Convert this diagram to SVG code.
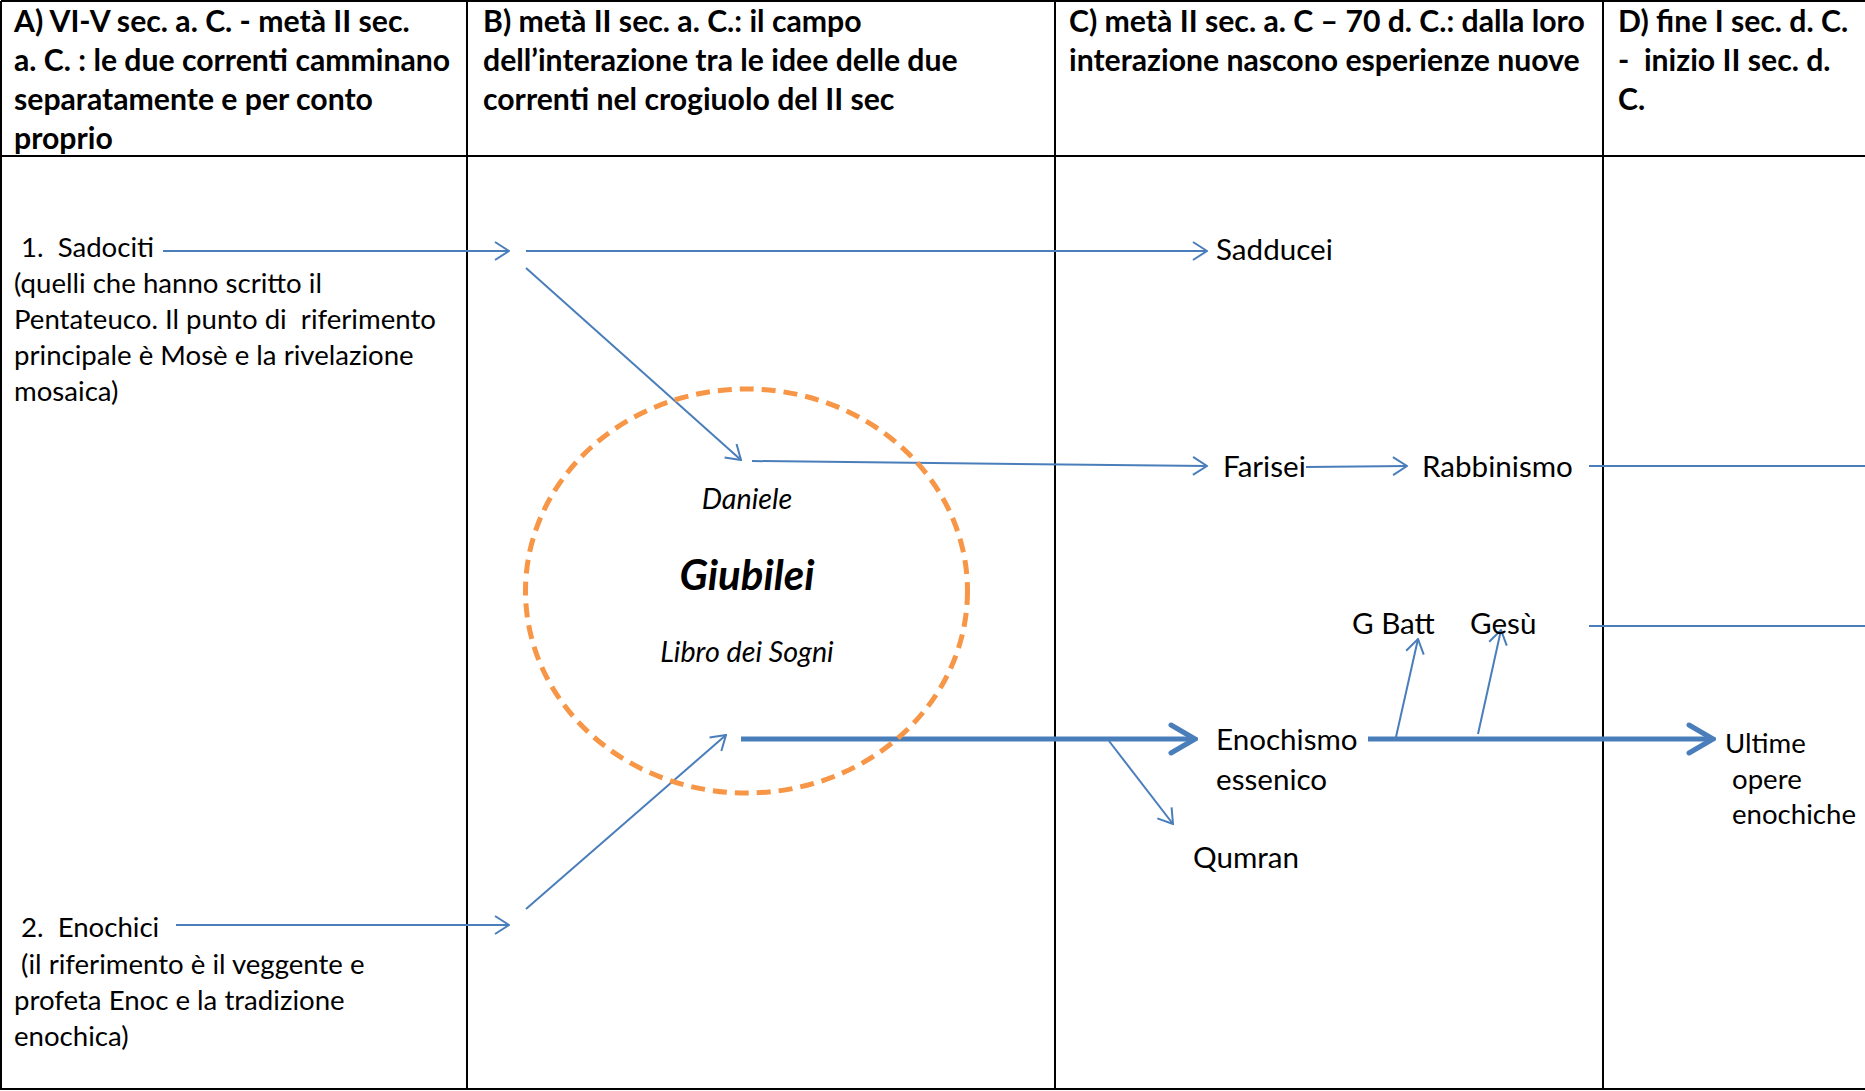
<svg xmlns="http://www.w3.org/2000/svg" width="1865" height="1091" viewBox="0 0 1865 1091">
<defs>
<style>
text{white-space:pre}
.hd{font-family:Lato,"Open Sans","DejaVu Sans",sans-serif;font-weight:bold;font-size:30.2px;fill:#000}
.tx{font-family:Lato,"Open Sans","DejaVu Sans",sans-serif;font-size:27.6px;fill:#000}
.lb{font-family:Lato,"Open Sans","DejaVu Sans",sans-serif;font-size:29.6px;fill:#000}
.it{font-family:Lato,"Open Sans","DejaVu Sans",sans-serif;font-style:italic;font-size:28.7px;fill:#000}
.big{font-family:Lato,"Open Sans","DejaVu Sans",sans-serif;font-style:italic;font-weight:bold;font-size:42px;fill:#000}
.grid{stroke:#000;stroke-width:2;fill:none}
.c{stroke:#4A7EBB;stroke-width:2;fill:none}
.ck{stroke:#4A7EBB;stroke-width:5;fill:none}
</style>
<marker id="a" viewBox="0 0 16 20" refX="15" refY="10" markerWidth="16" markerHeight="20" markerUnits="userSpaceOnUse" orient="auto">
<path d="M1,1 L15,10 L1,19" fill="none" stroke="#4A7EBB" stroke-width="2"/>
</marker>
<marker id="ak" viewBox="0 0 30 34" refX="27" refY="17" markerWidth="30" markerHeight="34" markerUnits="userSpaceOnUse" orient="auto">
<path d="M3,3 L27,17 L3,31" fill="none" stroke="#4A7EBB" stroke-width="5" stroke-linecap="round"/>
</marker>
</defs>
<rect width="1865" height="1091" fill="#fff"/>
<g id="table">
<path class="grid" d="M1,1 H1865 M1,1 V1089 H1865 M1,156 H1865 M467,1 V1089 M1055,1 V1089 M1603,1 V1089"/>
</g>
<g id="headers">
<text class="hd" x="14" y="32">A) VI-V sec. a. C. - metà II sec.</text>
<text class="hd" x="14" y="71">a. C. : le due correnti camminano</text>
<text class="hd" x="14" y="110">separatamente e per conto</text>
<text class="hd" x="14" y="149">proprio</text>
<text class="hd" x="483" y="32">B) metà II sec. a. C.: il campo</text>
<text class="hd" x="483" y="71">dell’interazione tra le idee delle due</text>
<text class="hd" x="483" y="110">correnti nel crogiuolo del II sec</text>
<text class="hd" x="1069" y="32">C) metà II sec. a. C – 70 d. C.: dalla loro</text>
<text class="hd" x="1069" y="71">interazione nascono esperienze nuove</text>
<text class="hd" x="1618" y="32">D) fine I sec. d. C.</text>
<text class="hd" x="1618" y="71">-  inizio II sec. d.</text>
<text class="hd" x="1618" y="110">C.</text>
</g>
<g id="connectors">
<line class="c" x1="163" y1="251" x2="509" y2="251" marker-end="url(#a)"/>
<line class="c" x1="526" y1="251" x2="1207" y2="251" marker-end="url(#a)"/>
<line class="c" x1="526" y1="268" x2="741" y2="460" marker-end="url(#a)"/>
<line class="c" x1="752" y1="461" x2="1207" y2="466" marker-end="url(#a)"/>
<line class="c" x1="1306" y1="467" x2="1407" y2="466" marker-end="url(#a)"/>
<line class="c" x1="1589" y1="466" x2="1865" y2="466"/>
<line class="c" x1="1589" y1="626" x2="1865" y2="626"/>
<line class="c" x1="1396" y1="737" x2="1418" y2="639" marker-end="url(#a)"/>
<line class="c" x1="1478" y1="734" x2="1501" y2="630" marker-end="url(#a)"/>
<line class="ck" x1="741" y1="739" x2="1195" y2="739" marker-end="url(#ak)"/>
<line class="ck" x1="1368" y1="739" x2="1713" y2="739" marker-end="url(#ak)"/>
<line class="c" x1="1109" y1="741" x2="1173" y2="824" marker-end="url(#a)"/>
<line class="c" x1="176" y1="925" x2="509" y2="925" marker-end="url(#a)"/>
<line class="c" x1="526" y1="909" x2="726" y2="735" marker-end="url(#a)"/>
</g>
<g id="crucible">
<ellipse cx="746.5" cy="591" rx="221" ry="202" fill="none" stroke="#F79646" stroke-width="5" stroke-dasharray="14 8"/>
<text class="it" x="747" y="509" text-anchor="middle">Daniele</text>
<text class="big" x="747" y="590" text-anchor="middle">Giubilei</text>
<text class="it" x="747" y="662" text-anchor="middle">Libro dei Sogni</text>
</g>
<g id="sadociti">
<text class="tx" x="21" y="257">1.  Sadociti</text>
<text class="tx" x="14" y="293">(quelli che hanno scritto il</text>
<text class="tx" x="14" y="329">Pentateuco. Il punto di  riferimento</text>
<text class="tx" x="14" y="365">principale è Mosè e la rivelazione</text>
<text class="tx" x="14" y="401">mosaica)</text>
</g>
<g id="enochici">
<text class="tx" x="21" y="937">2.  Enochici</text>
<text class="tx" x="14" y="974"> (il riferimento è il veggente e</text>
<text class="tx" x="14" y="1010">profeta Enoc e la tradizione</text>
<text class="tx" x="14" y="1046">enochica)</text>
</g>
<g id="sadducei"><text class="lb" x="1216" y="260">Sadducei</text></g>
<g id="farisei"><text class="lb" x="1223" y="477">Farisei</text></g>
<g id="rabbinismo"><text class="lb" x="1422" y="477">Rabbinismo</text></g>
<g id="gbatt"><text class="lb" x="1352" y="634">G Batt</text></g>
<g id="gesu"><text class="lb" x="1470" y="634">Gesù</text></g>
<g id="enochismo">
<text class="lb" x="1216" y="750">Enochismo</text>
<text class="lb" x="1216" y="790">essenico</text>
</g>
<g id="qumran"><text class="lb" x="1193" y="868">Qumran</text></g>
<g id="ultime">
<text class="tx" x="1725" y="753">Ultime</text>
<text class="tx" x="1732" y="789">opere</text>
<text class="tx" x="1732" y="824">enochiche</text>
</g>
</svg>
